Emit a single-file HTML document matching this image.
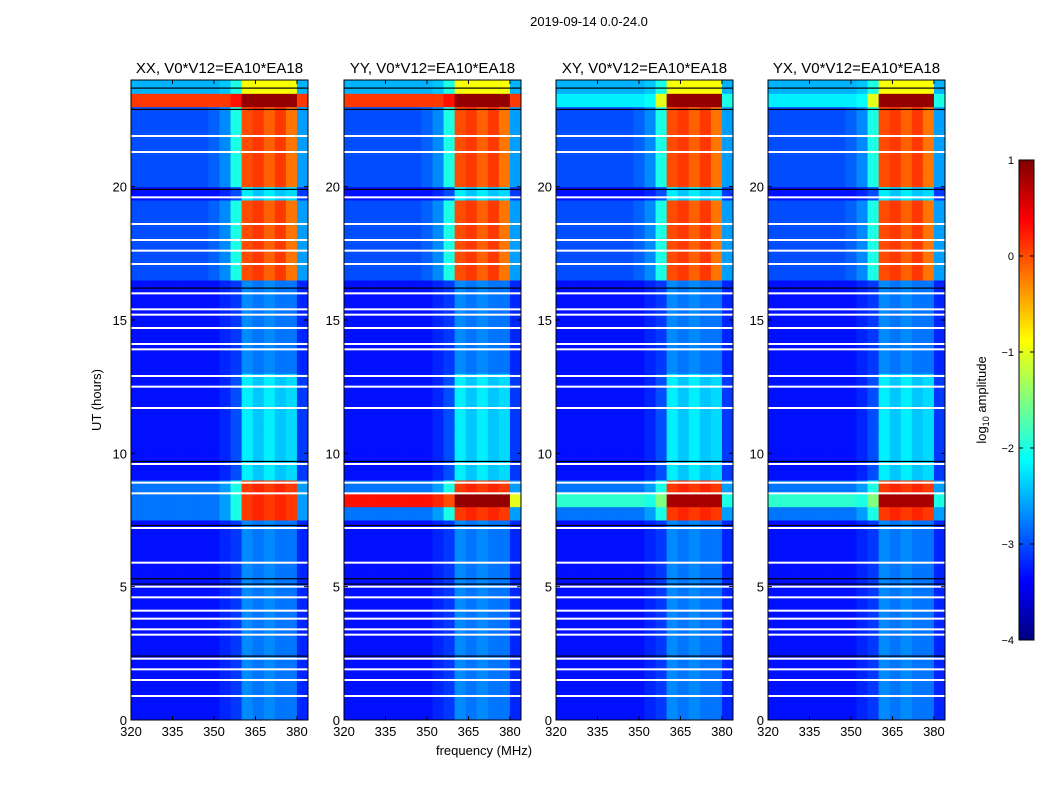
<!DOCTYPE html>
<html><head><meta charset="utf-8"><style>
body{margin:0;background:#fff;font-family:"Liberation Sans",sans-serif}
svg text{font-family:"Liberation Sans","DejaVu Sans",sans-serif}
</style></head><body>
<svg id="fig" width="1050" height="800" xmlns="http://www.w3.org/2000/svg">
<rect width="1050" height="800" fill="#fff"/>
<text x="589" y="26" font-size="13" text-anchor="middle">2019-09-14 0.0-24.0</text>
<text x="484" y="755" font-size="13" text-anchor="middle">frequency (MHz)</text>
<text transform="translate(101,400) rotate(-90)" font-size="13" text-anchor="middle">UT (hours)</text>
<text transform="translate(986,400) rotate(-90)" font-size="13" text-anchor="middle">log<tspan font-size="9" dy="3">10</tspan><tspan dy="-3"> amplitude</tspan></text>
<g id="panels"></g>
<g id="cbar"></g>
</svg>
<script>
// frequency bins (MHz, left edges, 4 MHz wide) and time bins (hours, 0.5 h)
const freqBins=[320,324,328,332,336,340,344,348,352,356,360,364,368,372,376,380];
const timeStep=0.5;
const xTicks=[320,335,350,365,380];
const yTicks=[0,5,10,15,20];
const cbTicks=[1,0,-1,-2,-3,-4];
const titles=["XX, V0*V12=EA10*EA18","YY, V0*V12=EA10*EA18","XY, V0*V12=EA10*EA18","YX, V0*V12=EA10*EA18"];
// row spectra (log10 amplitude per frequency bin)
const Q =[-3.3,-3.3,-3.3,-3.3,-3.3,-3.3,-3.3,-3.3,-3.2,-3.1,-2.7,-2.8,-2.7,-2.8,-2.8,-3.2];
const Q2=[-3.3,-3.3,-3.3,-3.3,-3.3,-3.3,-3.3,-3.3,-3.2,-3.0,-2.2,-2.4,-2.2,-2.4,-2.3,-3.1];
const B =[-3.0,-3.0,-3.0,-3.0,-3.0,-3.0,-3.0,-2.9,-2.7,-2.0,0.0,0.1,-0.1,0.1,-0.2,-2.6];
const H =[-2.8,-2.8,-2.8,-2.8,-2.8,-2.8,-2.8,-2.8,-2.6,-2.0,0.1,0.2,0.1,0.2,0.1,-2.6];
const HY=[0.3,0.3,0.3,0.3,0.3,0.3,0.3,0.3,0.2,0.0,0.9,0.9,0.9,0.9,0.9,-1.0];
const HX=[-1.9,-1.9,-1.9,-1.9,-1.9,-1.9,-1.9,-1.9,-2.0,-1.5,0.8,0.8,0.8,0.8,0.8,-2.0];
const T =[-2.5,-2.5,-2.5,-2.5,-2.5,-2.5,-2.5,-2.5,-2.4,-2.0,-0.9,-0.9,-0.9,-0.9,-0.9,-2.5];
const R =[0.1,0.1,0.1,0.1,0.1,0.1,0.1,0.1,0.1,0.3,0.9,0.9,0.9,0.9,0.9,0.1];
const RX=[-2.2,-2.2,-2.2,-2.2,-2.2,-2.2,-2.2,-2.2,-2.1,-1.0,0.9,0.9,0.9,0.9,0.9,-2.0];
const rowsXX=[Q,Q,Q,Q,Q,Q,Q,Q,Q,Q,Q,Q,Q,Q,Q,H,H,H,Q2,Q2,Q2,Q2,Q2,Q2,Q2,Q2,Q,Q,Q,Q,Q,Q,Q,B,B,B,B,B,B,Q2,B,B,B,B,B,B,R,T];
const rowsYY=[Q,Q,Q,Q,Q,Q,Q,Q,Q,Q,Q,Q,Q,Q,Q,H,HY,H,Q2,Q2,Q2,Q2,Q2,Q2,Q2,Q2,Q,Q,Q,Q,Q,Q,Q,B,B,B,B,B,B,Q2,B,B,B,B,B,B,R,T];
const rowsXY=[Q,Q,Q,Q,Q,Q,Q,Q,Q,Q,Q,Q,Q,Q,Q,H,HX,H,Q2,Q2,Q2,Q2,Q2,Q2,Q2,Q2,Q,Q,Q,Q,Q,Q,Q,B,B,B,B,B,B,Q2,B,B,B,B,B,B,RX,T];
const rowsYX=[Q,Q,Q,Q,Q,Q,Q,Q,Q,Q,Q,Q,Q,Q,Q,H,HX,H,Q2,Q2,Q2,Q2,Q2,Q2,Q2,Q2,Q,Q,Q,Q,Q,Q,Q,B,B,B,B,B,B,Q2,B,B,B,B,B,B,RX,T];
const flagWhite=[0.9,1.5,1.9,2.3,3.2,3.4,3.8,4.1,4.6,5.0,5.9,7.2,8.5,8.9,9.6,11.7,12.5,12.9,13.9,14.1,14.7,15.2,15.4,16.0,17.1,17.6,18.0,18.6,19.6,21.3,21.9];
const flagBlack=[2.4,5.1,5.3,7.3,9.7,16.2,19.9,22.9,23.7];

const NS="http://www.w3.org/2000/svg";
const panelX=[131,344,556,768], panelW=177, yTop=80, yBot=720;
const fMin=320,fMax=384,tMin=0,tMax=24,vMin=-4,vMax=1;
function jet(v){let t=Math.max(0,Math.min(1,(v-vMin)/(vMax-vMin)));
 const f=x=>Math.round(255*Math.max(0,Math.min(1,x)));
 return `rgb(${f(1.5-Math.abs(4*t-3))},${f(1.5-Math.abs(4*t-2))},${f(1.5-Math.abs(4*t-1))})`;}
function mk(tag,attrs,parent){const e=document.createElementNS(NS,tag);for(const k in attrs)e.setAttribute(k,attrs[k]);parent.appendChild(e);return e;}
const yS=t=>yBot-(t-tMin)/(tMax-tMin)*(yBot-yTop);
const allRows=[rowsXX,rowsYY,rowsXY,rowsYX];
const G=document.getElementById('panels');
allRows.forEach((rows,p)=>{
 const x0=panelX[p];const xS=f=>x0+(f-fMin)/(fMax-fMin)*panelW;
 const g=mk('g',{},G);
 
 
 rows.forEach((row,i)=>{
  const t0=i*timeStep,t1=t0+timeStep;
  row.forEach((v,j)=>{
   const f0=freqBins[j],f1=f0+4;
   const r=mk('rect',{x:xS(f0),y:yS(t1),width:xS(f1)-xS(f0)+0.5,height:yS(t0)-yS(t1)+0.5,fill:jet(v)},g);
   
   
  });
 });
 flagWhite.forEach(t=>{const l=mk('rect',{x:x0,y:yS(t)-1,width:panelW,height:2,fill:'#fff'},g);
  
  });
 flagBlack.forEach(t=>{const l=mk('rect',{x:x0,y:yS(t)-0.5,width:panelW,height:1.2,fill:'#000'},g);
  
  });
 const fr=mk('rect',{x:x0,y:yTop,width:panelW,height:yBot-yTop,fill:'none',stroke:'#000','stroke-width':1},g);
 
 
 xTicks.forEach(f=>{const x=xS(f);
  mk('line',{x1:x,x2:x,y1:yBot,y2:yBot-4,stroke:'#000'},g);mk('line',{x1:x,x2:x,y1:yTop,y2:yTop+4,stroke:'#000'},g);
  const tx=mk('text',{x:x,y:yBot+16,'font-size':13,'text-anchor':'middle'},g);tx.textContent=f;
  
  });
 yTicks.forEach(t=>{const y=yS(t);
  mk('line',{x1:x0,x2:x0+4,y1:y,y2:y,stroke:'#000'},g);mk('line',{x1:x0+panelW,x2:x0+panelW-4,y1:y,y2:y,stroke:'#000'},g);
  const tx=mk('text',{x:x0-4,y:y+5,'font-size':13,'text-anchor':'end'},g);tx.textContent=t;
  
  });
 const ti=mk('text',{x:x0+panelW/2,y:yTop-7,'font-size':15,'text-anchor':'middle'},g);ti.textContent=titles[p];
 
 
});
// colorbar
const C=document.getElementById('cbar');


const cx=1019,cw=15,cT=160,cB=640;
for(let k=0;k<240;k++){const v=vMin+(k+0.5)/240*(vMax-vMin);const y=cB-(k+1)*(cB-cT)/240;
 mk('rect',{x:cx,y:y,width:cw,height:(cB-cT)/240+0.5,fill:jet(v)},C);}
mk('rect',{x:cx,y:cT,width:cw,height:cB-cT,fill:'none',stroke:'#000','stroke-width':1},C);
cbTicks.forEach(v=>{const y=cB-(v-vMin)/(vMax-vMin)*(cB-cT);
 mk('line',{x1:cx,x2:cx+4,y1:y,y2:y,stroke:'#000'},C);mk('line',{x1:cx+cw,x2:cx+cw-4,y1:y,y2:y,stroke:'#000'},C);
 const tx=mk('text',{x:cx-5,y:y+4,'font-size':11,'text-anchor':'end'},C);tx.textContent=v<0?'\u2212'+(-v):v;
 
 });
</script>
</body></html>
